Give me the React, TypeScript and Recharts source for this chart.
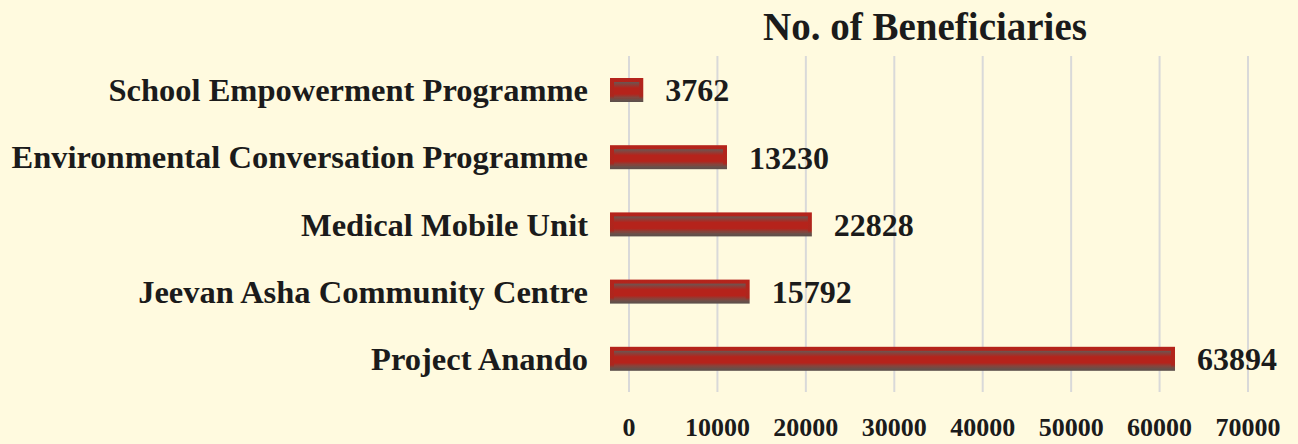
import React from 'react';
import { BarChart, Bar, XAxis, YAxis, CartesianGrid, LabelList } from 'recharts';

const programmes = [
  'School Empowerment Programme',
  'Environmental Conversation Programme',
  'Medical Mobile Unit',
  'Jeevan Asha Community Centre',
  'Project Anando',
];
const beneficiaries = [3762, 13230, 22828, 15792, 63894];
const xTicks = [0, 10000, 20000, 30000, 40000, 50000, 60000, 70000];

const data = programmes.map((name, i) => ({ name, value: beneficiaries[i] }));

const FONT = '"Liberation Serif", "Times New Roman", serif';
const INK = '#1b1b1b';

// red bar with a greyish bevel, like the office chart style
const BevelBar = (props: any) => {
  const { x, y, width, height, index } = props;
  if (!width || width <= 0) return null;
  const outer = `barOuter${index}`;
  const inner = `barInner${index}`;
  return (
    <g>
      <defs>
        <linearGradient id={outer} x1="0" y1="0" x2="0" y2="1">
          <stop offset="0" stopColor="#B5231B" />
          <stop offset="0.75" stopColor="#AD261D" />
          <stop offset="0.88" stopColor="#6E4F48" />
          <stop offset="1" stopColor="#5A4F4B" />
        </linearGradient>
        <linearGradient id={inner} x1="0" y1="0" x2="0" y2="1">
          <stop offset="0" stopColor="#6B5652" />
          <stop offset="0.38" stopColor="#B5231B" />
          <stop offset="0.75" stopColor="#B5231B" />
          <stop offset="1" stopColor="#7A4C44" />
        </linearGradient>
      </defs>
      <rect x={x} y={y} width={width} height={height} fill={`url(#${outer})`} />
      <rect
        x={x + 4}
        y={y + 4}
        width={Math.max(width - 8, 0)}
        height={height - 8}
        fill={`url(#${inner})`}
      />
    </g>
  );
};

export default function App() {
  return (
    <div style={{ position: 'relative', width: 1298, height: 444, background: '#FFFADF' }}>
      <style>{'body{margin:0;background:#FFFADF}'}</style>
      <div
        style={{
          position: 'absolute',
          top: 7,
          left: 925,
          transform: 'translateX(-50%)',
          fontFamily: FONT,
          fontWeight: 'bold',
          fontSize: 39,
          lineHeight: 1,
          color: INK,
          whiteSpace: 'nowrap',
        }}
      >
        No. of Beneficiaries
      </div>
      <BarChart
        width={1298}
        height={444}
        data={data}
        layout="vertical"
        margin={{ top: 56, right: 50, bottom: 0, left: 0 }}
        barSize={24}
      >
        <CartesianGrid
          xAxisId="ticks"
          horizontal={false}
          syncWithTicks
          stroke="#D9D9D9"
          strokeWidth={2}
        />
        <XAxis
          xAxisId="ticks"
          type="number"
          domain={[0, 70000]}
          allowDataOverflow
          ticks={xTicks}
          padding={{ left: 19 }}
          axisLine={false}
          tickLine={false}
          tickSize={0}
          tickMargin={26}
          height={52}
          interval={0}
          tick={{ fontFamily: FONT, fontWeight: 'bold', fontSize: 26, fill: INK }}
        />
        <XAxis
          xAxisId="bars"
          type="number"
          orientation="top"
          domain={[0, 70000]}
          allowDataOverflow
          padding={{ right: 19 }}
          height={0}
          hide
        />
        <YAxis
          type="category"
          dataKey="name"
          width={610}
          axisLine={false}
          tickLine={false}
          tickSize={0}
          tickMargin={22}
          interval={0}
          tick={{ fontFamily: FONT, fontWeight: 'bold', fontSize: 32.5, fill: INK }}
        />
        <Bar dataKey="value" xAxisId="bars" shape={<BevelBar />} isAnimationActive={false}>
          <LabelList
            dataKey="value"
            position="right"
            offset={22}
            style={{ fontFamily: FONT, fontWeight: 'bold', fontSize: 32, fill: INK }}
          />
        </Bar>
      </BarChart>
    </div>
  );
}
